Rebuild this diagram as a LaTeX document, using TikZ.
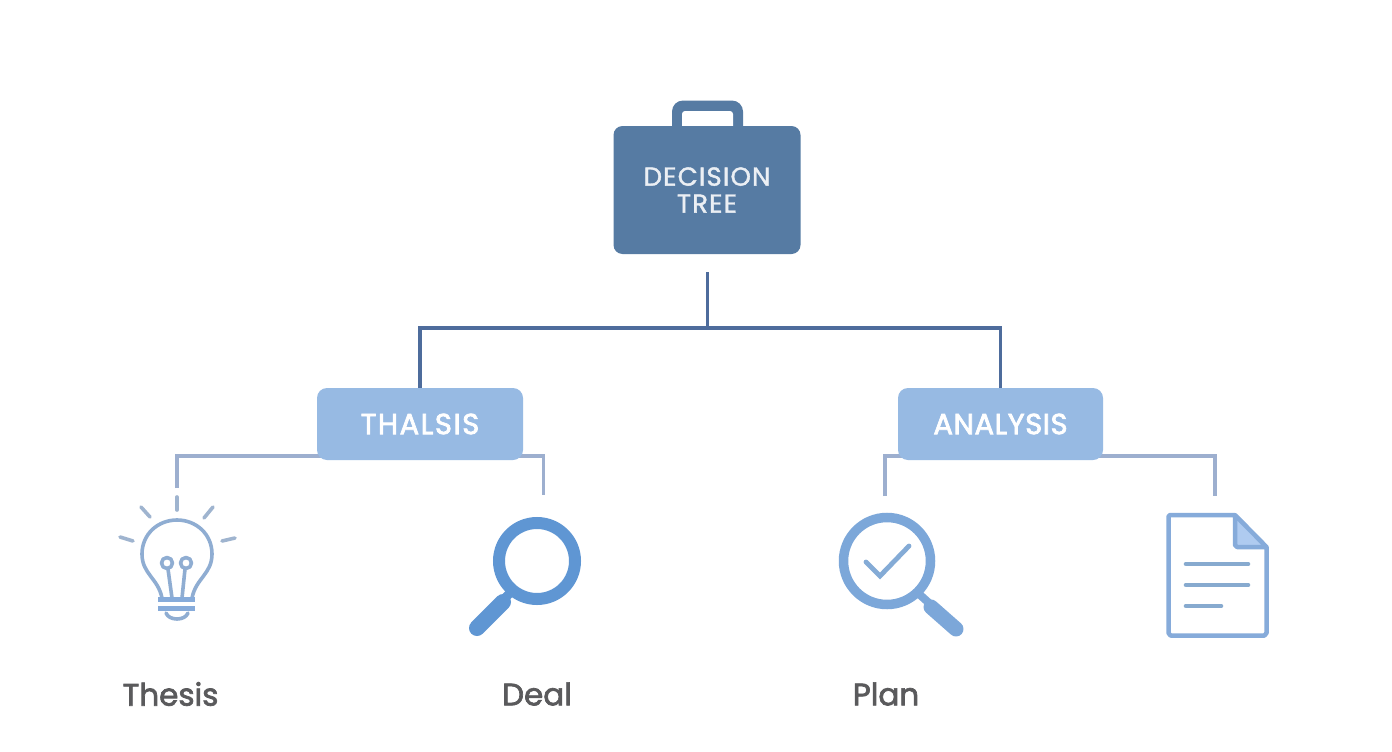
\documentclass[tikz,border=0pt]{standalone}
\usepackage{fontspec}
\setmainfont[FakeBold=1.5]{Poppins}
\newfontfamily\caseface[FakeBold=1.5,LetterSpace=4.5]{Poppins}
\newfontfamily\thalface[FakeBold=2.5,LetterSpace=5.5]{Poppins}
\newfontfamily\anaface[FakeBold=2.5,LetterSpace=2]{Poppins}
\newfontfamily\labelfont[FakeBold=2.2]{Poppins}
\usetikzlibrary{backgrounds}
\definecolor{caseblue}{HTML}{567BA3}
\definecolor{busblue}{HTML}{4E6C9C}
\definecolor{boxblue}{HTML}{97BAE3}
\definecolor{twigblue}{HTML}{9DAFCF}
\definecolor{bulbline}{HTML}{8FADD2}
\definecolor{bulbray}{HTML}{9FB4CF}
\definecolor{lensdark}{HTML}{5F96D3}
\definecolor{lensmid}{HTML}{7CA7D9}
\definecolor{checkblue}{HTML}{84ABD6}
\definecolor{docline}{HTML}{86ABDA}
\definecolor{docfold}{HTML}{AFCBF0}
\definecolor{docrow}{HTML}{87AACF}
\definecolor{labelgrey}{HTML}{5A5A5C}
\tikzset{
  x=1pt,y=-1pt,
  casebox/.style={fill=caseblue,rounded corners=9pt,minimum width=187pt,minimum height=128pt,inner sep=0pt,text=white!88!caseblue,align=center,font=\caseface\fontsize{26}{27}\selectfont},
  subbox/.style={fill=boxblue,rounded corners=10pt,minimum height=72pt,inner sep=0pt,text=white},
  bus/.style={draw=busblue,line width=3.2pt},
  twig/.style={draw=twigblue,line width=3.2pt},
  leaflabel/.style={text=labelgrey,inner sep=0pt,font=\labelfont\fontsize{31}{33}\selectfont},
  bulbstroke/.style={draw=bulbline,line width=3.6pt,line cap=round,line join=round},
  raystroke/.style={draw=bulbray,line width=3.6pt,line cap=round},
  docrowline/.style={draw=docrow,line width=4.6pt,line cap=round},
}
\begin{document}
\begin{tikzpicture}
\useasboundingbox (0,0) rectangle (1392,752);
\begin{scope}[on background layer]
\fill[white] (0,0) rectangle (1392,752);
\end{scope}
% briefcase handle
\fill[caseblue,rounded corners=11pt] (672,145) -- (672,100.5) -- (743,100.5) -- (743,145) -- cycle;
\fill[white,rounded corners=3pt] (682,145) -- (682,111) -- (733,111) -- (733,145) -- cycle;
% boxes
\node[casebox] (decision) at (707,190) {DECISION\\TREE};
\node[subbox,minimum width=206pt,font=\thalface\fontsize{29}{31}\selectfont] (thalsis) at (420,424) {THALSIS};
\node[subbox,minimum width=205pt,font=\anaface\fontsize{29}{31}\selectfont] (analysis) at (1000.5,424) {ANALYSIS};
% free ends
\coordinate (trunktop) at (707.5,272);
\coordinate (busmid) at (707.5,328);
\coordinate (twigA) at (177,488);
\coordinate (twigB) at (543.5,495);
\coordinate (twigC) at (885,496);
\coordinate (twigD) at (1215,496);
\coordinate (railL) at (420,456);
\coordinate (railR) at (1000,456);
\begin{scope}[on background layer]
\draw[twig] (twigA) |- (railL) -| (twigB);
\draw[twig] (twigC) |- (railR) -| (twigD);
\end{scope}
\draw[bus] (trunktop) -- (busmid);
\draw[bus] (thalsis.north) |- (busmid) -| (analysis.north);
% light bulb
\draw[raystroke] (177,497) -- (177,510);
\draw[raystroke] (141,507) -- (150,517);
\draw[raystroke] (213,507) -- (204,518);
\draw[raystroke] (120,537) -- (133,541);
\draw[raystroke] (235,538) -- (222,541);
\draw[bulbstroke] (162,598) .. controls (158,578) and (142,574) .. (142,554)
  .. controls (142,534) and (158,520) .. (177,520)
  .. controls (196,520) and (212,534) .. (212,554)
  .. controls (212,574) and (196,578) .. (192,598);
\draw[bulbstroke] (167,563) circle[radius=5.5];
\draw[bulbstroke] (186,563) circle[radius=5.5];
\draw[bulbstroke] (168,569) -- (172,598);
\draw[bulbstroke] (185,569) -- (182,598);
\draw[draw=docline,line width=4.5pt] (158,599.5) -- (195,599.5);
\draw[draw=docline,line width=5pt] (158,608) -- (195,608);
\draw[bulbstroke] (166,613) .. controls (169,621) and (185,621) .. (188,613);
% search icon
\draw[draw=lensdark,line width=12pt] (537,561) circle[radius=38];
\draw[draw=lensdark,line width=9pt] (513,590) -- (505,598);
\draw[draw=lensdark,line width=16pt,line cap=round] (503,602) -- (477,628);
% check icon
\draw[draw=lensmid,line width=9.5pt] (887,561) circle[radius=43.5];
\draw[draw=lensmid,line width=8pt] (919,594) -- (929,603);
\draw[draw=lensmid,line width=15pt,line cap=round] (931,607) -- (956,629);
\draw[draw=checkblue,line width=4.8pt,line cap=round,line join=miter] (866,562) -- (880,576) -- (909,546);
% document icon
\fill[docfold] (1235,516) -- (1266,547) -- (1235,547) -- cycle;
\draw[draw=docline,line width=4.5pt,line join=round] (1235,515) -- (1170,515) -- (1168.5,516.5) -- (1168.5,633) -- (1170.5,635.5) -- (1264.5,635.5) -- (1266.5,633) -- (1266.5,547) -- (1235,515) -- (1235,545) -- (1237,547) -- (1266.5,547);
\draw[docrowline] (1186,564) -- (1248,564);
\draw[docrowline] (1186,585) -- (1248,585);
\draw[docrowline] (1186,606) -- (1221,606);
% labels
\node[leaflabel] (lblThesis) at (170.5,694) {Thesis};
\node[leaflabel] (lblDeal) at (537,694) {Deal};
\node[leaflabel] (lblPlan) at (886,694) {Plan};
\end{tikzpicture}
\end{document}
